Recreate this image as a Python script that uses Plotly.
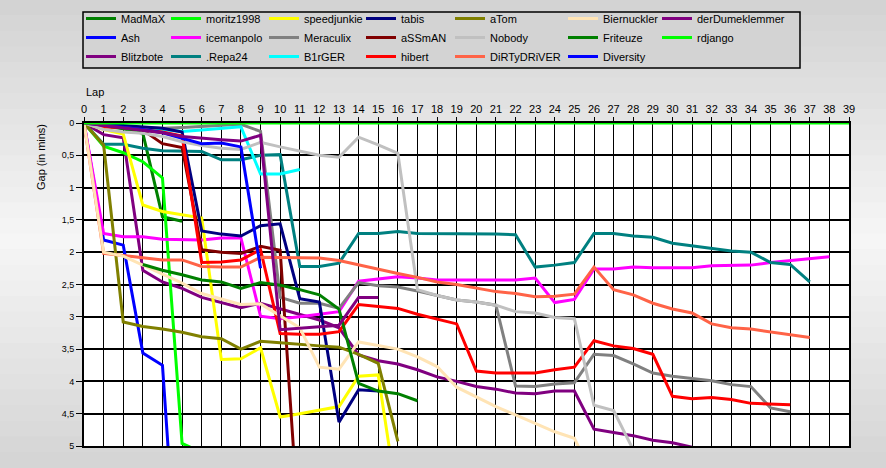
import plotly.graph_objects as go

# ---------------- data (gap in minutes per lap, lap 0 first) ----------------
laps = list(range(40))

MadMaX = [0, 0.04, 0.09, 0.16, 1.45, 1.52]
Ash = [0, 1.81, 1.89, 3.56, 3.75, 8.2]
Blitzbote = [0, 0.18, 0.23, 2.28, 2.46, 2.56, 2.70, 2.78, 2.86, 2.79, 2.88, 2.97, 3.05, 3.17,
             3.59, 3.68, 3.73, 3.82, 3.93, 4.0, 4.08, 4.12, 4.18, 4.19, 4.15, 4.15, 4.74, 4.79,
             4.84, 4.91, 4.95, 5.02]
moritz1998 = [0, 0.36, 0.46, 0.60, 0.85, 4.96, 5.1]
icemanpolo = [0, 1.71, 1.76, 1.76, 1.8, 1.8, 1.81, 1.78, 1.78, 2.99, 3.03, 3.0, 2.96, 2.92,
              2.45, 2.42, 2.38, 2.40, 2.43, 2.43, 2.43, 2.43, 2.43, 2.40, 2.78, 2.73, 2.26,
              2.26, 2.23, 2.24, 2.24, 2.24, 2.21, 2.21, 2.2, 2.16, 2.13, 2.10, 2.07]
Repa24 = [0, 0.33, 0.33, 0.39, 0.43, 0.44, 0.44, 0.57, 0.57, 0.5, 0.49, 2.22, 2.22, 2.17,
          1.71, 1.71, 1.68, 1.71, 1.71, 1.71, 1.71, 1.72, 1.73, 2.23, 2.2, 2.16, 1.71, 1.71,
          1.75, 1.77, 1.86, 1.90, 1.94, 1.98, 2.0, 2.16, 2.19, 2.46]
speedjunkie = [0, 0.1, 0.17, 1.27, 1.37, 1.42, 1.47, 3.66, 3.65, 3.48, 4.55, 4.5, 4.45, 4.39,
               3.92, 3.9, 5.9]
Meraculix = [0, 0.03, 0.05, 0.07, 0.08, 0.07, 0.05, 0.03, 0.02, 0.13, 2.70, 2.79, 2.79, 2.87,
             2.47, 2.52, 2.54, 2.6, 2.67, 2.74, 2.77, 2.82, 4.07, 4.08, 4.04, 4.02, 3.58, 3.6,
             3.73, 3.87, 3.92, 3.96, 3.99, 4.05, 4.08, 4.41, 4.47]
B1rGER = [0, 0.02, 0.04, 0.07, 0.1, 0.13, 0.11, 0.08, 0.06, 0.79, 0.79, 0.72]
tabis = [0, 0.02, 0.03, 0.06, 0.08, 0.14, 1.67, 1.72, 1.75, 1.59, 1.56, 2.72, 2.77, 4.63,
         4.13, 4.15]
aSSmAN = [0, 0.04, 0.07, 0.11, 0.32, 0.38, 1.96, 2.0, 2.02, 1.91, 1.97, 6.5]
hibert = [0, 0.06, 0.07, 0.11, 0.14, 0.2, 2.16, 2.15, 2.12, 1.96, 3.26, 3.27, 3.27, 3.23,
          2.81, 2.84, 2.87, 2.96, 3.04, 3.11, 3.84, 3.87, 3.87, 3.87, 3.82, 3.78, 3.37, 3.45,
          3.49, 3.58, 4.23, 4.27, 4.25, 4.28, 4.34, 4.35, 4.36]
aTom = [0, 0.34, 3.08, 3.15, 3.19, 3.24, 3.31, 3.34, 3.5, 3.38, 3.4, 3.43, 3.45, 3.47, 3.58,
        3.72, 4.93]
Nobody = [0, 0.1, 0.14, 0.16, 0.21, 0.29, 0.35, 0.39, 0.41, 0.30, 0.37, 0.44, 0.5, 0.53,
          0.22, 0.34, 0.47, 2.58, 2.67, 2.74, 2.77, 2.82, 2.92, 2.94, 3.01, 3.03, 4.37, 4.45,
          5.06]
DiRTyDRiVER = [0, 2.02, 2.05, 2.08, 2.12, 2.12, 2.22, 2.23, 2.23, 2.08, 2.08, 2.09, 2.09,
               2.13, 2.2, 2.26, 2.33, 2.39, 2.46, 2.5, 2.55, 2.61, 2.64, 2.69, 2.68, 2.65,
               2.23, 2.58, 2.66, 2.79, 2.88, 2.94, 3.11, 3.17, 3.19, 3.23, 3.27, 3.32]
Biernuckler = [0, 2.0, 2.06, 2.2, 2.35, 2.48, 2.64, 2.73, 2.81, 2.8, 2.99, 3.17, 3.78, 3.81,
               3.39, 3.44, 3.5, 3.62, 3.77, 4.09, 4.24, 4.39, 4.52, 4.65, 4.78, 4.88, 5.5]
Friteuze = [None, None, None, 2.19, 2.28, 2.35, 2.43, 2.46, 2.56, 2.47, 2.51, 2.58, 2.66,
            2.88, 4.03, 4.15, 4.19, 4.3]
Diversity = [0, 0.03, 0.06, 0.1, 0.15, 0.24, 0.32, 0.31, 0.37, 2.25]
derDumeklemmer = [0, 0.04, 0.07, 0.11, 0.15, 0.21, 0.24, 0.26, 0.28, 0.19, 3.2, 3.18, 3.15,
                  3.13, 2.7, 2.7]
rdjango = [0] * 40

series_names = ["MadMaX", "Ash", "Blitzbote", "moritz1998", "icemanpolo", ".Repa24",
                "speedjunkie", "Meraculix", "B1rGER", "tabis", "aSSmAN", "hibert", "aTom",
                "Nobody", "DiRTyDRiVER", "Biernuckler", "Friteuze", "Diversity",
                "derDumeklemmer", "rdjango"]
series_values = [MadMaX, Ash, Blitzbote, moritz1998, icemanpolo, Repa24, speedjunkie,
                 Meraculix, B1rGER, tabis, aSSmAN, hibert, aTom, Nobody, DiRTyDRiVER,
                 Biernuckler, Friteuze, Diversity, derDumeklemmer, rdjango]
series_colors = ["#008000", "#0000FF", "#800080", "#00FF00", "#FF00FF", "#008080",
                 "#FFFF00", "#808080", "#00FFFF", "#000080", "#800000", "#FF0000",
                 "#808000", "#C0C0C0", "#FF6347", "#FFE4B5", "#008000", "#0000FF",
                 "#800080", "#00FF00"]

y_tickvals = [0, 0.5, 1, 1.5, 2, 2.5, 3, 3.5, 4, 4.5, 5]
y_ticktext = ["0", "0,5", "1", "1,5", "2", "2,5", "3", "3,5", "4", "4,5", "5"]

# ---------------- figure ----------------
W, H = 886, 468
L, R, T, B = 84, 37, 123, 22
PW, PH = W - L - R, H - T - B
FONT = "Liberation Sans, Arial, sans-serif"


def px_x(px):
    return (px - L) / PW


def px_y(py):
    return (H - B - py) / PH


fig = go.Figure()
for i, (name, vals, col) in enumerate(zip(series_names, series_values, series_colors)):
    column = i // 3
    leg = "legend" if column == 0 else "legend%d" % (column + 1)
    fig.add_trace(go.Scatter(
        x=laps[:len(vals)], y=vals, name=name, mode="lines",
        line=dict(color=col, width=3), legend=leg, connectgaps=False,
        hoverinfo="x+y+name"))

# background gradient (grey at top/bottom, lighter in the middle)
shapes = []
N = 30
for k in range(N):
    py0 = k * H / N
    py1 = (k + 1) * H / N
    c = (py0 + py1) / 2
    v = int(round(246 - abs(c - 240) / 240 * 36))
    shapes.append(dict(type="rect", xref="paper", yref="paper", layer="below",
                       x0=px_x(-2), x1=px_x(W + 2), y0=px_y(py1 + 0.5), y1=px_y(py0 - 0.5),
                       fillcolor="rgb(%d,%d,%d)" % (v, v, v), line=dict(width=0)))
shapes.append(dict(type="rect", xref="paper", yref="paper", layer="below",
                   x0=0, x1=1, y0=0, y1=1, fillcolor="white", line=dict(width=0)))
# legend box
shapes.append(dict(type="rect", xref="paper", yref="paper", layer="below",
                   x0=px_x(83), x1=px_x(800), y0=px_y(68), y1=px_y(12),
                   fillcolor="#d3d3d3", line=dict(color="black", width=1.5)))

legend_text_x = [121, 206, 304, 401, 490, 603, 697]
legend_common = dict(xanchor="left", yanchor="top", orientation="v",
                     bgcolor="rgba(0,0,0,0)", borderwidth=0,
                     font=dict(family=FONT, size=11, color="black"),
                     tracegroupgap=0, itemwidth=30, y=px_y(4))
legends = {}
for c, tx in enumerate(legend_text_x):
    key = "legend" if c == 0 else "legend%d" % (c + 1)
    legends[key] = dict(legend_common, x=px_x(tx - 40))

fig.update_layout(
    width=W, height=H,
    margin=dict(l=L, r=R, t=T, b=B, autoexpand=False),
    paper_bgcolor="#e4e4e4", plot_bgcolor="white",
    showlegend=True,
    shapes=shapes,
    font=dict(family=FONT, color="black"),
    xaxis=dict(range=[0, 39], side="top", tickmode="array", tickvals=laps,
               ticktext=[str(v) for v in laps], showgrid=True, gridcolor="black",
               gridwidth=1, zeroline=False, showline=True, linecolor="black",
               linewidth=2, mirror=True, ticks="outside", ticklen=4, tickcolor="black",
               tickfont=dict(family=FONT, size=11, color="black")),
    yaxis=dict(range=[5, 0], tickmode="array", tickvals=y_tickvals, ticktext=y_ticktext,
               showgrid=True, gridcolor="black", gridwidth=1.5, zeroline=False,
               showline=True, linecolor="black", linewidth=2, mirror=True,
               ticks="outside", ticklen=6, tickcolor="black",
               tickfont=dict(family=FONT, size=9, color="black")),
    annotations=[
        dict(text="Lap", xref="paper", yref="paper", x=px_x(95), y=px_y(92),
             showarrow=False, xanchor="center", yanchor="middle",
             font=dict(family=FONT, size=11, color="black")),
        dict(text="Gap (in mins)", xref="paper", yref="paper", x=px_x(41), y=px_y(157),
             showarrow=False, textangle=-90, xanchor="center", yanchor="middle",
             font=dict(family=FONT, size=11, color="black")),
    ],
    **legends,
)

fig.write_html("out.html", config={"displayModeBar": False},
               post_script="document.body.style.margin='0px';")
